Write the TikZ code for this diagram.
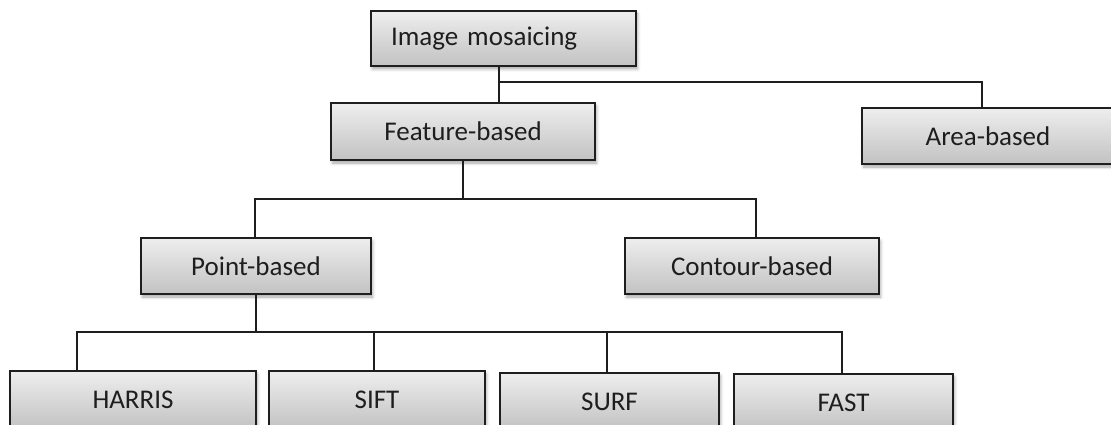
\documentclass[tikz,border=0pt]{standalone}
\usepackage{fontspec}
\setmainfont{Carlito}
\usetikzlibrary{shadows.blur}
\definecolor{boxtop}{RGB}{238,238,238}
\definecolor{boxbot}{RGB}{194,194,194}
\definecolor{ink}{RGB}{30,30,30}
\tikzset{
  box/.style={draw=ink, line width=1.4pt, top color=boxtop, bottom color=boxbot,
    inner sep=0pt, minimum height=56pt, text=ink,
    font=\fontsize{27}{32}\selectfont,
    blur shadow={shadow xshift=1.5pt, shadow yshift=-3pt, shadow blur radius=3pt, shadow opacity=35}},
  link/.style={draw=ink, line width=1.3pt}
}
\begin{document}
\begin{tikzpicture}[x=1pt,y=-1pt]
\useasboundingbox (0,0) rectangle (1111,425);
\clip (0,0) rectangle (1111,425);
% boxes
\node[box, minimum width=265pt, minimum height=55pt, text width=225pt, align=left, inner xsep=20pt] (img) at (503.5,38.5) {Image mosaicing};
\node[box, minimum width=264pt, minimum height=57pt] (feat) at (463,131.5) {Feature-based};
\node[box, minimum width=252pt] (area) at (988,136) {Area-based};
\node[box, minimum width=230pt] (point) at (256,266) {Point-based};
\node[box, minimum width=254pt] (contour) at (752,266) {Contour-based};
\node[box, minimum width=246pt, minimum height=58pt] (harris) at (133,400) {HARRIS};
\node[box, minimum width=216pt, minimum height=58pt] (sift) at (377,400) {SIFT};
\node[box, minimum width=219pt, minimum height=57pt] (surf) at (609.5,401.5) {SURF};
\node[box, minimum width=219pt, minimum height=57pt] (fast) at (843.5,402.5) {FAST};
% junctions
\coordinate (j1) at (499,82);
\coordinate (a1) at (982,82);
\coordinate (j2) at (463,199);
\coordinate (p1) at (255,199);
\coordinate (c1) at (756,199);
\coordinate (j3) at (256,332);
\coordinate (h1) at (77,332);
\coordinate (s1) at (374,332);
\coordinate (u1) at (607,332);
\coordinate (f1) at (842,332);
% connectors
\draw[link] (img.south -| j1) -- (feat.north -| j1);
\draw[link] (j1) -- (a1) -- (area.north -| a1);
\draw[link] (feat.south -| j2) -- (j2);
\draw[link] (point.north -| p1) -- (p1) -- (c1) -- (contour.north -| c1);
\draw[link] (point.south -| j3) -- (j3);
\draw[link] (harris.north -| h1) -- (h1) -- (f1) -- (fast.north -| f1);
\draw[link] (s1) -- (sift.north -| s1);
\draw[link] (u1) -- (surf.north -| u1);
\end{tikzpicture}
\end{document}
